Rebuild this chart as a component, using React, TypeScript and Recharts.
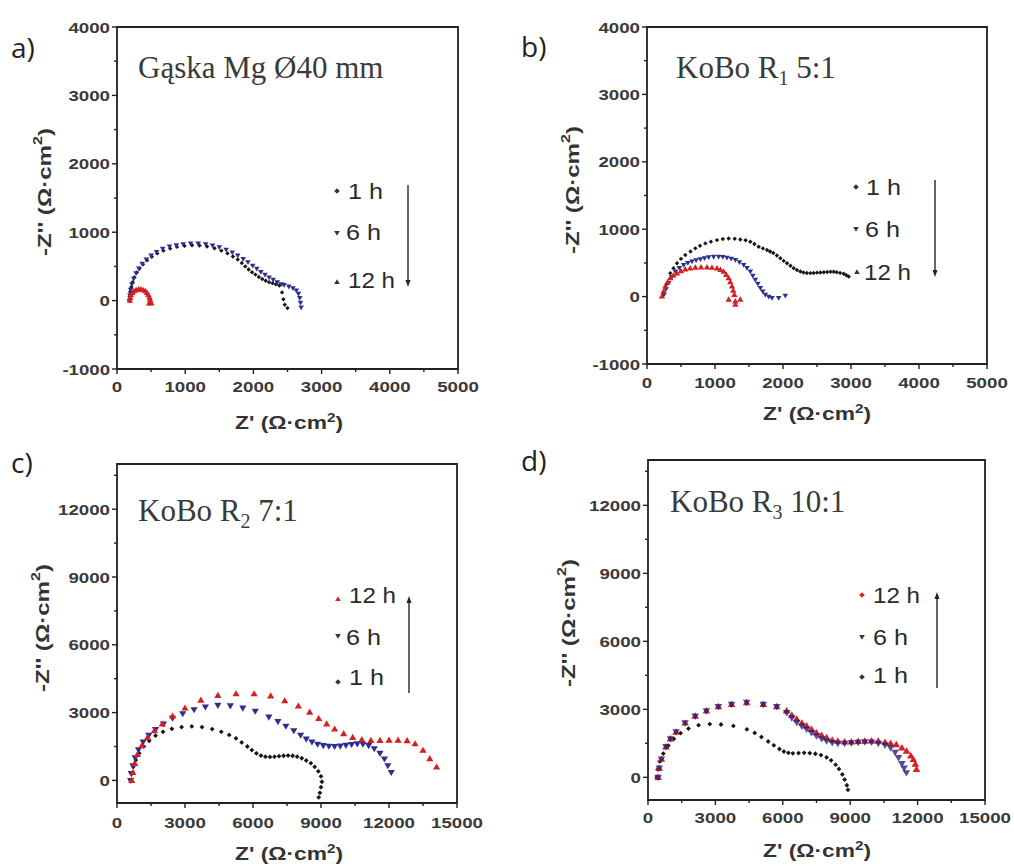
import React from 'react';
import { ScatterChart, Scatter, XAxis, YAxis, ReferenceArea } from 'recharts';

type Pt = [number, number];
type Kind = 'dot' | 'down' | 'up';

// Z' (real part) and -Z'' (imaginary part), Ω·cm², per immersion time

// a) Gąska Mg Ø40 mm
const gaska1h: Pt[] = [
  [180, 0], [185, 60], [195, 130], [210, 200], [230, 270], [255, 340], [290, 410], [330, 470],
  [380, 530], [440, 590], [510, 640], [590, 690], [680, 730], [780, 760], [880, 785], [990, 800],
  [1100, 810], [1210, 805], [1320, 790], [1430, 765], [1530, 730], [1620, 690], [1700, 645],
  [1770, 600], [1830, 550], [1880, 500], [1930, 455], [1980, 415], [2030, 380], [2080, 345],
  [2130, 315], [2180, 290], [2230, 270], [2280, 255], [2330, 240], [2380, 220], [2420, 120],
  [2440, 20], [2460, -60], [2500, -110],
];
const gaska6h: Pt[] = [
  [185, 0], [190, 80], [200, 160], [220, 240], [245, 320], [280, 400], [320, 470], [370, 540],
  [430, 600], [500, 660], [580, 710], [670, 760], [770, 790], [870, 810], [970, 825], [1080, 835],
  [1190, 835], [1300, 825], [1400, 805], [1500, 780], [1600, 745], [1690, 705], [1770, 660],
  [1850, 610], [1920, 560], [1990, 510], [2050, 465], [2110, 420], [2170, 380], [2230, 340],
  [2290, 305], [2350, 270], [2410, 240], [2450, 230], [2520, 205], [2580, 180], [2630, 150],
  [2660, 100], [2680, 40], [2690, -30], [2700, -100],
];
const gaska12h: Pt[] = [
  [190, 0], [195, 40], [205, 80], [225, 115], [250, 140], [280, 155], [315, 165], [350, 165],
  [385, 155], [415, 140], [440, 115], [460, 85], [475, 50], [485, 15], [490, -20], [470, -40], [505, -40],
];

// b) KoBo R1 5:1
const r1_1h: Pt[] = [
  [245, 30], [290, 190], [343, 348], [390, 420], [441, 495], [500, 560], [563, 618], [640, 670],
  [711, 716], [780, 755], [858, 789], [940, 815], [1029, 838], [1115, 855], [1201, 863], [1290, 858],
  [1372, 848], [1450, 835], [1520, 814], [1580, 780], [1642, 740], [1705, 715], [1765, 691],
  [1810, 670], [1857, 647], [1910, 610], [1961, 569], [2010, 530], [2059, 495], [2110, 458],
  [2157, 422], [2205, 395], [2255, 372], [2300, 358], [2350, 350], [2402, 348], [2450, 350],
  [2500, 355], [2549, 358], [2600, 362], [2650, 366], [2700, 368], [2745, 368], [2790, 362],
  [2840, 352], [2892, 338], [2930, 318], [2966, 299],
];
const r1_6h: Pt[] = [
  [245, 29], [280, 115], [318, 201], [365, 290], [416, 372], [475, 425], [539, 471], [600, 498],
  [662, 520], [722, 540], [784, 554], [845, 570], [907, 583], [980, 590], [1054, 593], [1115, 588],
  [1176, 578], [1238, 562], [1299, 544], [1360, 510], [1422, 471], [1470, 425], [1520, 372],
  [1556, 310], [1593, 250], [1630, 190], [1667, 128], [1703, 75], [1740, 29], [1790, 0],
  [1838, -20], [1936, -20], [2034, 15],
];
const r1_12h: Pt[] = [
  [220, 5], [245, 80], [269, 152], [305, 215], [343, 275], [390, 315], [441, 348], [500, 380],
  [563, 407], [635, 420], [711, 431], [795, 436], [882, 436], [955, 430], [1029, 422], [1080, 400],
  [1127, 372], [1165, 325], [1201, 275], [1225, 215], [1250, 152], [1268, 90], [1284, 29],
  [1299, -69], [1201, -44], [1372, -44], [1299, -118],
];

// c) KoBo R2 7:1
const r2_1h: Pt[] = [
  [600, 0], [650, 300], [720, 600], [830, 900], [980, 1200], [1180, 1500], [1420, 1750],
  [1700, 1980], [2030, 2150], [2420, 2280], [2850, 2360], [3300, 2390], [3750, 2360],
  [4200, 2270], [4600, 2150], [4950, 2010], [5250, 1860], [5500, 1680], [5750, 1500],
  [5950, 1340], [6150, 1200], [6350, 1100], [6550, 1050], [6750, 1040], [6950, 1050],
  [7150, 1070], [7350, 1090], [7550, 1100], [7750, 1090], [7950, 1050], [8150, 980],
  [8350, 880], [8550, 760], [8720, 600], [8880, 400], [9000, 180], [9040, -60], [9000, -300],
  [8950, -550], [8900, -750],
];
const r2_6h: Pt[] = [
  [600, 0], [630, 300], [700, 650], [800, 1000], [950, 1350], [1150, 1700], [1400, 2000],
  [1700, 2250], [2050, 2500], [2450, 2750], [2900, 2950], [3400, 3130], [3900, 3250],
  [4450, 3320], [5000, 3300], [5550, 3200], [6100, 3060], [6700, 2800], [7100, 2600],
  [7450, 2400], [7800, 2200], [8100, 2000], [8350, 1830], [8600, 1700], [8850, 1600],
  [9100, 1540], [9350, 1510], [9600, 1500], [9850, 1520], [10100, 1550], [10350, 1590],
  [10600, 1620], [10850, 1600], [11100, 1540], [11350, 1400], [11600, 1200], [11800, 950],
  [11950, 650], [12100, 350],
];
const r2_12h: Pt[] = [
  [650, 0], [700, 350], [780, 750], [900, 1150], [1100, 1550], [1350, 1900], [1650, 2200],
  [2000, 2500], [2450, 2850], [3000, 3200], [3700, 3550], [4450, 3760], [5250, 3830],
  [6050, 3830], [6780, 3740], [7400, 3520], [8000, 3290], [8500, 3020], [8900, 2740],
  [9250, 2500], [9600, 2270], [10000, 2070], [10400, 1900], [10800, 1800], [11200, 1770],
  [11600, 1770], [12000, 1780], [12400, 1780], [12800, 1760], [13150, 1620], [13500, 1330],
  [13800, 960], [14100, 590],
];

// d) KoBo R3 10:1
const r3_1h: Pt[] = [
  [390, 0], [430, 350], [520, 700], [680, 1050], [900, 1400], [1150, 1700], [1450, 1950],
  [1800, 2150], [2250, 2300], [2750, 2350], [3250, 2330], [3800, 2270], [4400, 2120],
  [4750, 1960], [5050, 1780], [5350, 1580], [5600, 1410], [5850, 1250], [6050, 1140],
  [6250, 1080], [6450, 1060], [6700, 1070], [6950, 1080], [7200, 1070], [7450, 1040],
  [7700, 980], [7950, 880], [8150, 750], [8350, 560], [8500, 370], [8650, 130], [8750, -100],
  [8850, -350], [8900, -550],
];
const r3_6h: Pt[] = [
  [450, 0], [500, 400], [600, 800], [800, 1350], [1000, 1700], [1250, 2000], [1650, 2400],
  [2100, 2700], [2600, 2930], [3130, 3120], [3720, 3220], [4390, 3300], [5130, 3220],
  [5730, 3120], [6170, 2850], [6400, 2620], [6620, 2420], [6850, 2260], [7060, 2120],
  [7280, 1970], [7500, 1830], [7730, 1700], [7950, 1600], [8200, 1530], [8450, 1500],
  [8750, 1500], [9050, 1520], [9350, 1540], [9650, 1560], [9950, 1550], [10250, 1500],
  [10550, 1420], [10800, 1300], [11000, 1100], [11150, 870], [11300, 600], [11400, 400],
  [11500, 200],
];
const r3_12h: Pt[] = [
  [450, 0], [500, 400], [600, 800], [800, 1350], [1000, 1700], [1250, 2000], [1650, 2400],
  [2100, 2700], [2600, 2930], [3130, 3120], [3720, 3220], [4390, 3300], [5130, 3220],
  [5730, 3120], [6170, 2930], [6400, 2750], [6620, 2570], [6850, 2400], [7060, 2270],
  [7280, 2120], [7500, 1970], [7730, 1850], [7950, 1750], [8200, 1650], [8450, 1600],
  [8750, 1570], [9050, 1570], [9350, 1590], [9650, 1600], [9950, 1610], [10250, 1600],
  [10550, 1550], [10800, 1500], [11050, 1450], [11300, 1300], [11510, 1160], [11700, 950],
  [11810, 790], [11900, 580], [11950, 350],
];

// axis ticks
const smallXMajor = [0, 1000, 2000, 3000, 4000, 5000];
const smallXMinor = [500, 1500, 2500, 3500, 4500];
const smallYMajor = [-1000, 0, 1000, 2000, 3000, 4000];
const smallYMinor = [-500, 500, 1500, 2500, 3500];
const largeXMajor = [0, 3000, 6000, 9000, 12000, 15000];
const largeXMinor = [1500, 4500, 7500, 10500, 13500];
const largeYMajor = [0, 3000, 6000, 9000, 12000];
const largeYMinor = [1500, 4500, 7500, 10500, 13500];

const hourLabels = ['1 h', '6 h', '12 h'];

const BLACK = '#151515';
const BLUE = '#2a2f90';
const RED = '#d42020';
const AXIS = '#222';
const TICK_TEXT = '#3a3a3a';
const SANS = "'Liberation Sans', Arial, Helvetica, sans-serif";
const SERIF = "'Liberation Serif', 'Times New Roman', serif";
const LETTER = "'Open Sans', 'Noto Sans', sans-serif";

const labelLength = (s: string) =>
  s.split('').reduce((acc, ch) => acc + (ch === '-' ? 6 : 10.4), 0);

function Marker({ cx, cy, kind, r, color, opacity = 1 }: { cx?: number; cy?: number; kind: Kind; r: number; color: string; opacity?: number }) {
  if (cx == null || cy == null || isNaN(cx) || isNaN(cy)) return null;
  let d: string;
  if (kind === 'dot') {
    d = `M${cx},${cy - r} L${cx + r},${cy} L${cx},${cy + r} L${cx - r},${cy} Z`;
  } else if (kind === 'down') {
    d = `M${cx - r},${cy - r * 0.7} L${cx + r},${cy - r * 0.7} L${cx},${cy + r} Z`;
  } else {
    d = `M${cx - r},${cy + r * 0.7} L${cx + r},${cy + r * 0.7} L${cx},${cy - r} Z`;
  }
  return <path d={d} fill={color} fillOpacity={opacity} />;
}

const makeXTick = (majors: number[], labelDy: number) => (props: any) => {
  const { x, y, payload } = props;
  const v = payload.value as number;
  const major = majors.includes(v);
  const s = String(v);
  return (
    <g>
      <line x1={x} x2={x} y1={y} y2={y + (major ? 5 : 3)} stroke={AXIS} strokeWidth={1.4} />
      {major && (
        <text x={x} y={y + labelDy} textAnchor="middle" fontFamily={SANS} fontWeight="bold"
          fontSize={15} fill={TICK_TEXT} textLength={labelLength(s)} lengthAdjust="spacingAndGlyphs">
          {s}
        </text>
      )}
    </g>
  );
};

const makeYTick = (majors: number[]) => (props: any) => {
  const { x, y, payload } = props;
  const v = payload.value as number;
  const major = majors.includes(v);
  const s = String(v);
  const len = labelLength(s);
  return (
    <g>
      <line x1={x} x2={x - (major ? 5 : 3)} y1={y} y2={y} stroke={AXIS} strokeWidth={1.4} />
      {major && (
        <text x={x - 7 - len} y={y + 5.5} textAnchor="start" fontFamily={SANS} fontWeight="bold"
          fontSize={15} fill={TICK_TEXT} textLength={len} lengthAdjust="spacingAndGlyphs">
          {s}
        </text>
      )}
    </g>
  );
};

interface SeriesSpec { name: string; pts: Pt[]; kind: Kind; color: string; r: number; opacity?: number }

interface PanelSpec {
  key: string;
  left: number; top: number; width: number; height: number;
  marginTop: number; marginRight: number;
  yAxisWidth: number; xAxisHeight: number;
  xDomain: [number, number]; yDomain: [number, number];
  xMajor: number[]; xMinor: number[]; yMajor: number[]; yMinor: number[];
  labelDy: number;
  series: SeriesSpec[];
}

const panels: PanelSpec[] = [
  {
    key: 'a', left: 0, top: 0, width: 500, height: 430, marginTop: 27, marginRight: 42,
    yAxisWidth: 117, xAxisHeight: 61, xDomain: [0, 5000], yDomain: [-1000, 4000],
    xMajor: smallXMajor, xMinor: smallXMinor, yMajor: smallYMajor, yMinor: smallYMinor, labelDy: 23,
    series: [
      { name: hourLabels[0], pts: gaska1h, kind: 'dot', color: BLACK, r: 2.2 },
      { name: hourLabels[1], pts: gaska6h, kind: 'down', color: BLUE, r: 2.8 },
      { name: hourLabels[2], pts: gaska12h, kind: 'up', color: RED, r: 3.2 },
    ],
  },
  {
    key: 'b', left: 500, top: 0, width: 514, height: 430, marginTop: 27, marginRight: 27,
    yAxisWidth: 147, xAxisHeight: 66, xDomain: [0, 5000], yDomain: [-1000, 4000],
    xMajor: smallXMajor, xMinor: smallXMinor, yMajor: smallYMajor, yMinor: smallYMinor, labelDy: 24,
    series: [
      { name: hourLabels[0], pts: r1_1h, kind: 'dot', color: BLACK, r: 2.2 },
      { name: hourLabels[1], pts: r1_6h, kind: 'down', color: BLUE, r: 2.8 },
      { name: hourLabels[2], pts: r1_12h, kind: 'up', color: RED, r: 3.2 },
    ],
  },
  {
    key: 'c', left: 0, top: 430, width: 500, height: 436, marginTop: 34, marginRight: 43,
    yAxisWidth: 117, xAxisHeight: 63, xDomain: [0, 15000], yDomain: [-1000, 14000],
    xMajor: largeXMajor, xMinor: largeXMinor, yMajor: largeYMajor, yMinor: largeYMinor, labelDy: 25,
    series: [
      { name: hourLabels[0], pts: r2_1h, kind: 'dot', color: BLACK, r: 2.4 },
      { name: hourLabels[1], pts: r2_6h, kind: 'down', color: BLUE, r: 3.6 },
      { name: hourLabels[2], pts: r2_12h, kind: 'up', color: RED, r: 3.6 },
    ],
  },
  {
    key: 'd', left: 500, top: 430, width: 514, height: 436, marginTop: 30, marginRight: 29,
    yAxisWidth: 148, xAxisHeight: 66, xDomain: [0, 15000], yDomain: [-1000, 14000],
    xMajor: largeXMajor, xMinor: largeXMinor, yMajor: largeYMajor, yMinor: largeYMinor, labelDy: 23,
    series: [
      { name: hourLabels[0], pts: r3_1h, kind: 'dot', color: BLACK, r: 2.4 },
      { name: hourLabels[2], pts: r3_12h, kind: 'up', color: RED, r: 3.8 },
      { name: hourLabels[1], pts: r3_6h, kind: 'down', color: '#2a1f78', r: 3.8, opacity: 0.8 },
    ],
  },
];

function Panel({ p }: { p: PanelSpec }) {
  return (
    <div style={{ position: 'absolute', left: p.left, top: p.top }}>
      <ScatterChart width={p.width} height={p.height}
        margin={{ top: p.marginTop, right: p.marginRight, bottom: 0, left: 0 }}>
        <XAxis type="number" dataKey="x" domain={p.xDomain} ticks={[...p.xMajor, ...p.xMinor].sort((a, b) => a - b)}
          interval={0} height={p.xAxisHeight} axisLine={false} tickLine={false} tickSize={0} tickMargin={0}
          tick={makeXTick(p.xMajor, p.labelDy)} allowDataOverflow />
        <YAxis type="number" dataKey="y" domain={p.yDomain} ticks={[...p.yMajor, ...p.yMinor].sort((a, b) => a - b)}
          interval={0} width={p.yAxisWidth} axisLine={false} tickLine={false} tickSize={0} tickMargin={0}
          tick={makeYTick(p.yMajor)} allowDataOverflow />
        {p.series.map((s) => (
          <Scatter key={s.name} name={s.name} data={s.pts.map(([x, y]) => ({ x, y }))} isAnimationActive={false}
            shape={(sp: any) => <Marker cx={sp.cx} cy={sp.cy} kind={s.kind} r={s.r} color={s.color} opacity={s.opacity} />} />
        ))}
        <ReferenceArea x1={p.xDomain[0]} x2={p.xDomain[1]} y1={p.yDomain[0]} y2={p.yDomain[1]}
          fill="none" fillOpacity={0} stroke={AXIS} strokeWidth={1.8} ifOverflow="visible" />
      </ScatterChart>
    </div>
  );
}

interface LegendRow { text: string; kind: Kind; color: string; mx: number; my: number; tx: number; ty: number }

const legendKinds: Kind[] = ['dot', 'down', 'up'];

// legend rows listed top to bottom
const legends: { rows: LegendRow[]; arrow: { x: number; from: number; to: number } }[] = [
  {
    rows: [
      { text: hourLabels[0], kind: legendKinds[0], color: '#333', mx: 337, my: 191, tx: 348, ty: 199 },
      { text: hourLabels[1], kind: legendKinds[1], color: '#333', mx: 337, my: 233, tx: 346, ty: 240 },
      { text: hourLabels[2], kind: legendKinds[2], color: '#333', mx: 337, my: 282, tx: 348, ty: 288 },
    ],
    arrow: { x: 408, from: 185, to: 287 },
  },
  {
    rows: [
      { text: hourLabels[0], kind: legendKinds[0], color: '#333', mx: 856, my: 187, tx: 866, ty: 195 },
      { text: hourLabels[1], kind: legendKinds[1], color: '#333', mx: 856, my: 229, tx: 865, ty: 237 },
      { text: hourLabels[2], kind: legendKinds[2], color: '#333', mx: 857, my: 272, tx: 864, ty: 280 },
    ],
    arrow: { x: 935, from: 180, to: 277 },
  },
  {
    rows: [
      { text: hourLabels[2], kind: legendKinds[2], color: RED, mx: 338, my: 599, tx: 349, ty: 603 },
      { text: hourLabels[1], kind: legendKinds[1], color: '#333', mx: 338, my: 636, tx: 346, ty: 645 },
      { text: hourLabels[0], kind: legendKinds[0], color: '#333', mx: 338, my: 682, tx: 349, ty: 685 },
    ],
    arrow: { x: 409, from: 693, to: 596 },
  },
  {
    rows: [
      { text: hourLabels[2], kind: legendKinds[0], color: RED, mx: 862, my: 595, tx: 873, ty: 603 },
      { text: hourLabels[1], kind: legendKinds[1], color: '#333', mx: 862, my: 637, tx: 873, ty: 645 },
      { text: hourLabels[0], kind: legendKinds[0], color: '#333', mx: 862, my: 677, tx: 873, ty: 683 },
    ],
    arrow: { x: 937, from: 688, to: 592 },
  },
];

const panelLetters = [
  { text: 'a)', x: 11, y: 58 },
  { text: 'b)', x: 521, y: 57 },
  { text: 'c)', x: 11, y: 473 },
  { text: 'd)', x: 521, y: 471 },
];

const xTitles = [
  { x: 289, y: 429 },
  { x: 817, y: 420 },
  { x: 289, y: 860 },
  { x: 817, y: 857 },
];
const yTitles = [
  { x: 45, y: 192 },
  { x: 573, y: 190 },
  { x: 43, y: 628 },
  { x: 569, y: 623 },
];

function Arrow({ x, from, to }: { x: number; from: number; to: number }) {
  const dir = to > from ? 1 : -1;
  return (
    <g>
      <line x1={x} x2={x} y1={from} y2={to - dir * 4} stroke="#333" strokeWidth={1.5} />
      <path d={`M${x - 2.5},${to - dir * 7} L${x + 2.5},${to - dir * 7} L${x},${to} Z`} fill="#222" />
    </g>
  );
}

// axis title with a raised "2" in Ω·cm²
function AxisTitle({ x, y, prefix, rotate, length }: { x: number; y: number; prefix: string; rotate?: boolean; length: number }) {
  return (
    <text x={x} y={y} textAnchor="middle" dominantBaseline={rotate ? 'central' : undefined}
      transform={rotate ? `rotate(-90 ${x} ${y})` : undefined} fontFamily={SANS} fontWeight="bold"
      fontSize={18} fill="#333" textLength={length} lengthAdjust="spacingAndGlyphs">
      {prefix} (Ω·cm<tspan fontSize={12} dy={-7}>2</tspan><tspan dy={7}>)</tspan>
    </text>
  );
}

function Overlay() {
  const titleStyle = { fontFamily: SERIF, fontSize: 31, fill: '#3a3a3a' } as const;
  return (
    <svg width={1014} height={866} style={{ position: 'absolute', left: 0, top: 0, pointerEvents: 'none' }}>
      {panelLetters.map((l) => (
        <text key={l.text} x={l.x} y={l.y} fontFamily={LETTER} fontSize={28} fill="#222">{l.text}</text>
      ))}

      <text x={138} y={78} {...titleStyle}>Gąska Mg Ø40 mm</text>
      <text x={676} y={78} {...titleStyle}>
        KoBo R<tspan fontSize={20} dy={7}>1</tspan><tspan dy={-7}> 5:1</tspan>
      </text>
      <text x={138} y={521} {...titleStyle}>
        KoBo R<tspan fontSize={20} dy={7}>2</tspan><tspan dy={-7}> 7:1</tspan>
      </text>
      <text x={670} y={512} {...titleStyle}>
        KoBo R<tspan fontSize={20} dy={7}>3</tspan><tspan dy={-7}> 10:1</tspan>
      </text>

      {xTitles.map((t, i) => (
        <AxisTitle key={`xt${i}`} x={t.x} y={t.y} prefix="Z'" length={108} />
      ))}
      {yTitles.map((t, i) => (
        <AxisTitle key={`yt${i}`} x={t.x} y={t.y} prefix="-Z''" rotate length={128} />
      ))}

      {legends.map((lg, i) => (
        <g key={`lg${i}`}>
          {lg.rows.map((r) => (
            <g key={r.text}>
              <Marker cx={r.mx} cy={r.my} kind={r.kind} r={2.8} color={r.color} />
              <text x={r.tx} y={r.ty} fontFamily={SANS} fontSize={22} fill="#2a2a2a"
                textLength={r.text.length > 3 ? 47 : 35} lengthAdjust="spacingAndGlyphs">{r.text}</text>
            </g>
          ))}
          <Arrow {...lg.arrow} />
        </g>
      ))}
    </svg>
  );
}

export default function App() {
  return (
    <div style={{ position: 'absolute', left: 0, top: 0, width: 1014, height: 866, background: '#fff', overflow: 'hidden' }}>
      {panels.map((p) => <Panel key={p.key} p={p} />)}
      <Overlay />
    </div>
  );
}
